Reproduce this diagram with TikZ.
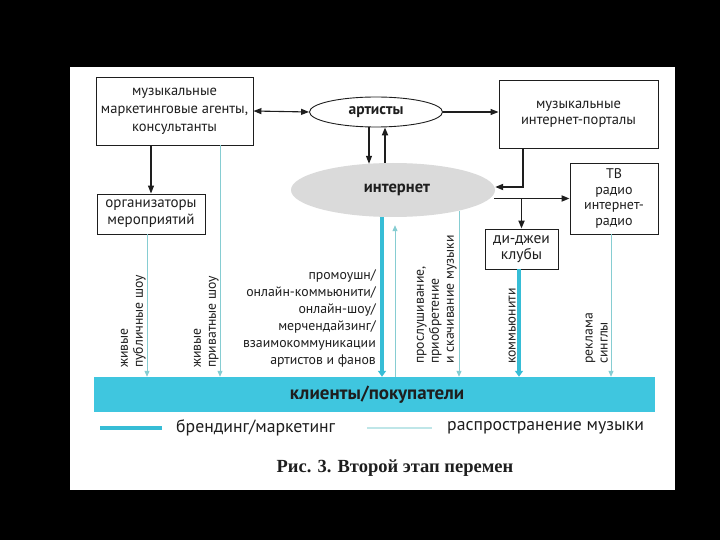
\documentclass[tikz,border=0pt]{standalone}
\usepackage{fontspec}
\setmainfont{PT Sans}
\newfontfamily\capfont{Liberation Serif}
\usetikzlibrary{arrows.meta,shapes.geometric,calc}
\definecolor{bandc}{HTML}{3FC6DF}
\definecolor{thickc}{HTML}{36BDD6}
\definecolor{thinc}{HTML}{86CDD2}
\definecolor{legthin}{HTML}{BFE6E8}
\definecolor{cloudc}{HTML}{DADADA}
\definecolor{ink}{HTML}{1E1E1E}
\begin{document}
\begin{tikzpicture}[x=1pt,y=-1pt,
  every node/.style={text=ink},
  box/.style={draw=ink, line width=0.9pt, fill=white, inner sep=0pt, align=center},
  blk/.style={draw=ink, line width=1.1pt, -{Triangle[length=8pt,width=6pt]}},
  blkthick/.style={blk, line width=1.8pt},
  thinarr/.style={draw=thinc, line width=1pt, -{Triangle[length=6pt,width=5pt]}},
  thickarr/.style={draw=thickc, line width=4pt, -{Triangle[length=6pt,width=8pt]}},
  rot/.style={font=\fontsize{13.7}{15}\selectfont, rotate=90, align=left, inner sep=0pt, anchor=south west}
]
\useasboundingbox (0,0) rectangle (720,540);
\fill[black] (0,0) rectangle (720,540);
\fill[white] (70,67) rectangle (675,490);

% nodes
\node[box, minimum width=157pt, minimum height=68pt, font=\fontsize{14.5}{18}\selectfont] (agents) at (174.5,111) {музыкальные\\маркетинговые агенты,\\консультанты};
\node[ellipse, draw=ink, line width=0.9pt, minimum width=133pt, minimum height=30pt, inner sep=0pt, font=\fontsize{15.5}{17}\selectfont\bfseries] (art) at (376,112) {артисты};
\node[box, minimum width=159pt, minimum height=68pt, font=\fontsize{14.5}{16}\selectfont] (portals) at (578.5,114) {музыкальные\\интернет-порталы};
\node[box, minimum width=108pt, minimum height=40pt, font=\fontsize{15}{17}\selectfont] (org) at (151,214) {организаторы\\мероприятий};
\node[ellipse, fill=cloudc, minimum width=204pt, minimum height=54pt, inner sep=0pt, font=\fontsize{16.5}{18}\selectfont\bfseries] (net) at (393,190) {\hspace*{8pt}интернет};
\node[box, minimum width=88pt, minimum height=71pt, font=\fontsize{14}{15.5}\selectfont] (tv) at (614,198.5) {ТВ\\радио\\интернет-\\радио};
\node[box, minimum width=73pt, minimum height=40pt, font=\fontsize{15.5}{15.5}\selectfont] (dj) at (521.5,249) {ди-джеи\\клубы};
\node[fill=bandc, minimum width=561pt, minimum height=35pt, inner sep=0pt, font=\fontsize{19}{20}\selectfont\bfseries] (band) at (374.5,394.5) {\hspace*{5pt}клиенты/покупатели};

% black connectors
\draw[blk, {Triangle[length=8pt,width=6pt]}-{Triangle[length=8pt,width=6pt]}] (agents.east) -- (art.west);
\draw[blk] (art.east) -- (portals.west |- art.east);
\draw[blk] (org.north |- agents.south) -- (org.north);
\draw[blk] ([xshift=-7pt]art.south) -- ([xshift=-7pt,yshift=-1pt]art.south |- net.north);
\draw[blkthick] ([xshift=-8pt]net.north) -- ([xshift=-8pt]net.north |- art.south);
\draw[blkthick] ([xshift=-55.5pt]portals.south) |- ([yshift=3pt]net.east);
\draw[blkthick] ([yshift=-9pt]net.east) -- (net.east |- tv.west) -- (tv.west);
\draw[blkthick] (dj.north |- tv.west) -- (dj.north);

% teal connectors
\draw[thinarr] ([xshift=-4pt]org.south) -- ([xshift=-4pt]org.south |- band.north);
\draw[thinarr] ([xshift=45.5pt]agents.south) -- ([xshift=45.5pt]agents.south |- band.north);
\draw[thickarr] ([xshift=-11pt]net.south) -- ([xshift=-11pt]net.south |- band.north);
\draw[thinarr, shorten >=8pt] ([xshift=2pt]net.south |- band.north) -- ([xshift=2pt]net.south);
\draw[thinarr] ([xshift=66pt,yshift=6pt]net.south) -- ([xshift=66pt]net.south |- band.north);
\draw[thickarr] ([xshift=-2.5pt]dj.south) -- ([xshift=-2.5pt]dj.south |- band.north);
\draw[thinarr] ([xshift=-3pt]tv.south) -- ([xshift=-3pt]tv.south |- band.north);

% labels
\node[rot] (l1) at (146,368) {живые\\публичные шоу};
\node[rot] (l2) at (219,368) {живые\\приватные шоу};
\node[anchor=south east, align=right, inner sep=0pt, font=\fontsize{13.8}{17}\selectfont] (promo) at (376,367) {промоушн/\\онлайн-коммьюнити/\\онлайн-шоу/\\мерчендайзинг/\\взаимокоммуникации\\артистов и фанов};
\node[rot] (l3) at (457,364) {прослушивание,\\приобретение\\и скачивание музыки};
\node[rot] (l4) at (516,364) {коммьюнити};
\node[rot] (l5) at (608,364) {реклама\\синглы};

% legend
\coordinate (lg1a) at (100,428);
\coordinate (lg1b) at (162,428);
\coordinate (lg2a) at (367,428);
\coordinate (lg2b) at (432,428);
\draw[thickc, line width=3.5pt] (lg1a) -- (lg1b);
\draw[legthin, line width=2pt] (lg2a) -- (lg2b);
\node[anchor=west, inner sep=0pt, font=\fontsize{17.7}{20}\selectfont] (leg1) at (176,428) {брендинг/маркетинг};
\node[anchor=west, inner sep=0pt, font=\fontsize{17.7}{20}\selectfont] (leg2) at (447,428) {распространение музыки};

\node[font=\capfont\bfseries\fontsize{18.5}{20}\selectfont] (cap) at (395,468) {Рис. 3. Второй этап перемен};
\end{tikzpicture}
\end{document}
